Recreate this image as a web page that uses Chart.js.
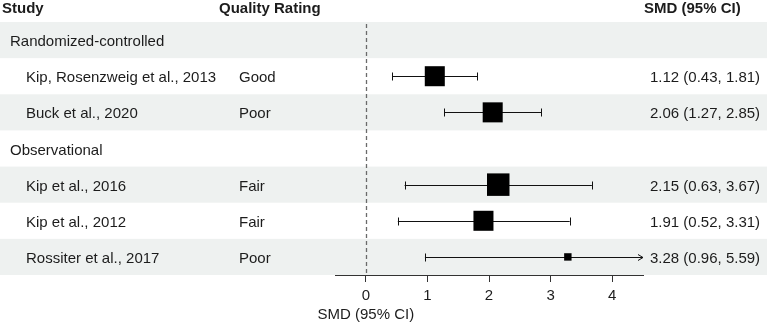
<!DOCTYPE html>
<html>
<head>
<meta charset="utf-8">
<script src="https://cdn.jsdelivr.net/npm/chart.js@4"></script>
<style>
  html, body { margin: 0; padding: 0; background: #fff; }
  #wrap { width: 767px; height: 322px; position: relative; }
</style>
</head>
<body>
<div id="wrap"><canvas id="c" width="767" height="322"></canvas></div>
<script>
// ---- data ----
const studies = ["Randomized-controlled", "Kip, Rosenzweig et al., 2013", "Buck et al., 2020",
                 "Observational", "Kip et al., 2016", "Kip et al., 2012", "Rossiter et al., 2017"];
const isGroup = [true, false, false, true, false, false, false];
const quality = ["", "Good", "Poor", "", "Fair", "Fair", "Poor"];
const smd     = [null, 1.12, 2.06, null, 2.15, 1.91, 3.28];
const lower   = [null, 0.43, 1.27, null, 0.63, 0.52, 0.96];
const upper   = [null, 1.81, 2.85, null, 3.67, 3.31, 5.59];
const weight  = [null, 0.89, 0.89, null, 1.0, 0.89, 0.33];
const xTicks  = [0, 1, 2, 3, 4];
const headers = ["Study", "Quality Rating", "SMD (95% CI)"];
const axisTitle = "SMD (95% CI)";

const FONT = "'Liberation Sans', Arial, sans-serif";
const TXT = '#1c1c1c';
const MAXBOX = 22.5;
const XMIN = -0.5, XMAX = 4.5;
const TEXT_DY = 2;

const fmt = v => v.toFixed(2);

const points = [];
smd.forEach((v, i) => { if (v !== null) points.push({ x: v, y: i + 0.5, w: weight[i] }); });

const forestPlugin = {
  id: 'forest',
  beforeDatasetsDraw(chart) {
    const ctx = chart.ctx, xs = chart.scales.x, ys = chart.scales.y, ca = chart.chartArea;
    ctx.save();
    // row shading
    studies.forEach((s, i) => {
      if (i % 2 === 0) {
        const t = ys.getPixelForValue(i), b = ys.getPixelForValue(i + 1);
        ctx.fillStyle = '#eef1f0';
        ctx.fillRect(0, t, chart.width, b - t);
      }
    });
    // reference dashed line at 0
    const x0 = Math.round(xs.getPixelForValue(0)) + 0.5;
    ctx.strokeStyle = '#6a6a6a';
    ctx.lineWidth = 1.3;
    ctx.setLineDash([4, 3]);
    ctx.beginPath();
    ctx.moveTo(x0, ca.top + 2);
    ctx.lineTo(x0, ca.bottom);
    ctx.stroke();
    ctx.setLineDash([]);
    // confidence intervals
    ctx.strokeStyle = '#111';
    ctx.lineWidth = 1;
    smd.forEach((v, i) => {
      if (v === null) return;
      const y = Math.round(ys.getPixelForValue(i + 0.5)) + 0.5;
      const lo = Math.max(lower[i], XMIN), hi = Math.min(upper[i], XMAX);
      const xl = xs.getPixelForValue(lo), xh = xs.getPixelForValue(hi);
      ctx.beginPath();
      ctx.moveTo(xl, y); ctx.lineTo(xh, y);
      if (lower[i] >= XMIN) { ctx.moveTo(Math.round(xl) + 0.5, y - 4); ctx.lineTo(Math.round(xl) + 0.5, y + 4); }
      if (upper[i] <= XMAX) { ctx.moveTo(Math.round(xh) + 0.5, y - 4); ctx.lineTo(Math.round(xh) + 0.5, y + 4); }
      ctx.stroke();
      if (upper[i] > XMAX) {
        ctx.beginPath();
        ctx.moveTo(xh - 5, y - 3); ctx.lineTo(xh, y); ctx.lineTo(xh - 5, y + 3);
        ctx.stroke();
      }
    });
    // text table
    ctx.fillStyle = TXT;
    ctx.textBaseline = 'middle';
    ctx.font = 'bold 15px ' + FONT;
    ctx.fillText(headers[0], 2, 9);
    ctx.fillText(headers[1], 219, 9);
    ctx.fillText(headers[2], 644, 9);
    ctx.font = '15px ' + FONT;
    studies.forEach((s, i) => {
      const y = ys.getPixelForValue(i + 0.5) + TEXT_DY;
      ctx.fillText(s, isGroup[i] ? 10 : 26, y);
      if (quality[i]) ctx.fillText(quality[i], 239, y);
      if (smd[i] !== null) {
        ctx.fillText(fmt(smd[i]) + ' (' + fmt(lower[i]) + ', ' + fmt(upper[i]) + ')', 650, y);
      }
    });
    // axis title centred on 0
    ctx.textAlign = 'center';
    ctx.fillText(axisTitle, xs.getPixelForValue(0), 315);
    ctx.restore();
  }
};

new Chart(document.getElementById('c'), {
  type: 'scatter',
  data: {
    datasets: [{
      data: points,
      pointStyle: 'rect',
      backgroundColor: '#000',
      borderColor: '#000',
      borderWidth: 0,
      pointRadius: ctx => (ctx.raw ? ctx.raw.w * MAXBOX / Math.SQRT2 : 0),
      pointHoverRadius: ctx => (ctx.raw ? ctx.raw.w * MAXBOX / Math.SQRT2 : 0)
    }]
  },
  options: {
    responsive: false,
    animation: false,
    events: [],
    layout: { padding: { left: 335, right: 124, top: 22, bottom: 0 } },
    plugins: { legend: { display: false }, tooltip: { enabled: false } },
    scales: {
      x: {
        type: 'linear',
        min: XMIN, max: XMAX,
        afterBuildTicks: s => { s.ticks = xTicks.map(v => ({ value: v })); },
        afterFit: s => { s.height = 47; },
        grid: { display: true, drawOnChartArea: false, drawTicks: true, tickLength: 7, tickColor: '#333', tickWidth: 1 },
        border: { display: true, color: '#333', width: 1 },
        ticks: { color: TXT, font: { family: FONT, size: 15 }, padding: 5 }
      },
      y: {
        type: 'linear', display: false, reverse: true, min: 0, max: 7
      }
    }
  },
  plugins: [forestPlugin]
});
</script>
</body>
</html>
